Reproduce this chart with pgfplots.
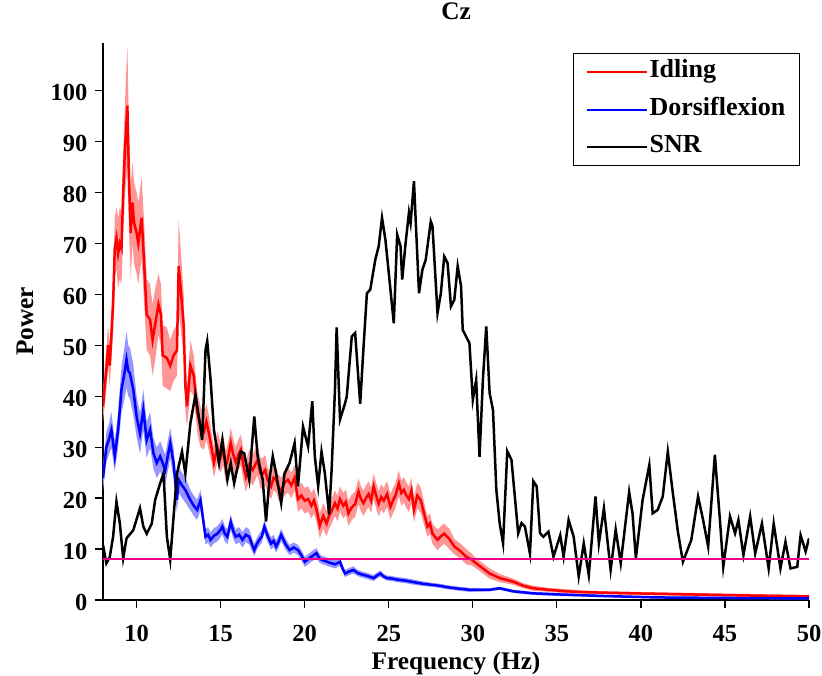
\documentclass[border=0pt]{standalone}
\usepackage{pgfplots}
\pgfplotsset{compat=1.18}
\usepackage{pgfplotstable}
\usepgfplotslibrary{fillbetween}
\usepackage{fontspec}
\setmainfont{Liberation Serif}
\newcommand{\bigbf}{\bfseries\fontsize{24.5}{29}\selectfont}
\newcommand{\labbf}{\bfseries\fontsize{25.3}{30}\selectfont}
\newcommand{\legbf}{\bfseries\fontsize{26}{31}\selectfont}
\definecolor{bandred}{RGB}{255,150,150}
\definecolor{bandblue}{RGB}{150,150,255}

\pgfplotstableread{
x y e
8.0 38 3
8.1 42 4
8.2 45 4
8.3 50 4
8.4 46 4
8.5 52 5
8.6 58 6
8.7 69 6
8.8 71 6
8.9 68 7
9.0 70 7
9.1 69 7
9.2 80 8
9.3 88 9
9.45 97 12
9.55 82 10
9.65 72 9
9.75 78 8
9.85 74 8
10.0 72 8
10.1 70 8
10.3 75 8
10.45 66 8
10.6 56 7
10.8 55 7
10.95 51 7
11.1 54 7
11.3 58 6
11.45 56 6
11.55 48 6
11.8 47.5 6
12.0 46 5
12.2 48 5
12.4 49 5
12.5 65.5 9
12.6 62 8
12.8 54 6
12.9 42 5
13.0 38 4
13.2 46 5
13.4 44 4
13.6 37 4
13.8 34 4
14.0 33 3.5
14.15 35 3.5
14.3 32.7 3.5
14.45 30 3
14.6 27 3
14.8 30 3
15.0 28 3
15.15 29.5 3
15.3 26.2 3
15.45 28 3
15.6 30.8 3
15.75 28.5 3
15.9 27 3
16.05 28.5 3
16.2 29.5 3
16.35 26.5 3
16.5 24.2 3
16.7 26.5 3
16.9 25.5 3
17.05 26.5 3
17.2 27.5 3
17.35 25 3
17.5 24.8 3
17.65 25.5 3
17.8 23.5 2.5
18.0 22.3 2.5
18.15 24 2.5
18.3 23.6 2.5
18.45 22 2.5
18.6 21.5 2.5
18.8 23 2.5
19.0 23.6 2.5
19.2 22.5 2.5
19.4 24 2.5
19.6 19.8 2.5
19.8 20.5 2.5
20.0 19.5 2.5
20.2 19.8 2.5
20.4 18.5 2.5
20.55 19.5 2.5
20.7 17.8 2.5
20.9 14.6 2.5
21.1 16.5 2.5
21.3 15 2.5
21.45 16.5 2.5
21.6 17.5 2.5
21.8 19 2.5
21.95 18 2.5
22.1 19.8 2.5
22.3 18.5 2.5
22.45 19.2 2.5
22.6 17 2.5
22.8 18.2 2.5
23.0 18.8 2.5
23.2 21.3 2.5
23.35 19.8 2.5
23.5 19 2.5
23.65 20 2.5
23.8 20.8 2.5
23.95 19.5 2.5
24.1 22.3 2.5
24.25 20.5 2.5
24.4 18.9 2.5
24.55 20.2 2.5
24.7 19.5 2.5
24.9 20.8 2.5
25.1 18.3 2.5
25.25 19.5 2.5
25.4 20.5 2.5
25.6 22.9 2.5
25.75 21 2.5
25.9 21.6 2.5
26.05 20.5 2.5
26.2 19.8 2.5
26.35 21.5 2.5
26.5 17.7 2.5
26.7 20.5 2.5
26.9 19.6 2.5
27.1 17 2.2
27.3 14.4 2
27.45 15 2
27.6 13 2
27.9 11.8 2
28.1 12.5 2
28.3 13 2
28.6 12 2
28.9 10.5 1.5
29.3 9.5 1.5
29.6 8.5 1.5
29.9 8 1.2
30.2 7.2 1
30.6 6.2 1
31.0 5.2 1
31.6 4.3 0.8
32.4 3.6 0.6
33.0 2.8 0.5
33.6 2.3 0.5
34.5 2.0 0.4
35.6 1.7 0.4
37.0 1.5 0.3
39.6 1.3 0.3
42.0 1.15 0.3
44.5 1.0 0.3
47.0 0.85 0.3
50.0 0.7 0.3
}\idling

\pgfplotstableread{
x y e
8.0 24 2.5
8.2 30 3
8.35 31.5 3
8.5 33.4 3.5
8.7 28.2 3
8.9 33.4 3.5
9.1 41.3 4.5
9.25 44 5
9.4 47.2 5.5
9.5 45 5
9.6 44.5 5
9.8 41.3 5
10.0 36 4
10.2 32.7 4
10.4 37.3 4
10.6 31.4 3.5
10.8 33.4 3.5
11.0 28.8 3
11.2 26.9 3
11.4 28.2 3
11.7 25.5 3
12.0 30.8 3
12.2 26.9 3
12.4 19.6 2.5
12.5 23.6 2.5
12.7 22.5 2.5
12.9 21.6 2.5
13.2 19.6 2
13.4 18.5 2
13.6 17.7 2
13.8 19.6 2
13.95 16 1.8
14.1 12.4 1.5
14.25 12.8 1.5
14.4 11.8 1.5
14.6 12.6 1.5
14.8 13 1.5
15.0 13.8 1.5
15.1 14.4 1.5
15.25 13 1.5
15.4 12.4 1.5
15.6 15.3 1.5
15.75 13.5 1.5
15.9 12.4 1.5
16.1 12.8 1.5
16.3 11.8 1.5
16.5 12.8 1.5
16.7 12.4 1.5
16.85 11 1.3
17.0 9.8 1.2
17.15 11 1.2
17.3 11.8 1.2
17.45 12.5 1.2
17.6 14.4 1.2
17.8 12.5 1.2
18.0 11.1 1.2
18.15 11.6 1.2
18.3 10.5 1.2
18.45 11.5 1.2
18.6 12.8 1.2
18.85 11 1.1
19.1 9.8 1
19.35 10.3 1
19.6 9.8 1
19.8 8.8 1
20.0 7.5 1
20.2 8 1
20.4 8.5 1
20.7 9.2 1
20.85 8.3 0.9
21.0 7.9 0.8
21.25 7.6 0.8
21.5 7.3 0.8
21.8 7 0.8
22.1 7.5 0.8
22.25 6.2 0.7
22.4 5.2 0.7
22.65 5.6 0.7
22.9 5.9 0.7
23.15 5.3 0.6
23.4 5.0 0.6
23.75 4.7 0.6
24.1 4.3 0.6
24.3 4.8 0.6
24.5 5.2 0.6
24.7 4.6 0.5
24.9 4.3 0.5
25.2 4.2 0.5
25.5 4.0 0.5
26.0 3.8 0.5
26.5 3.5 0.5
27.0 3.2 0.45
27.5 3.0 0.4
28.0 2.8 0.4
28.5 2.5 0.4
29.2 2.2 0.4
29.8 2.0 0.4
30.4 2.0 0.35
31.0 2.0 0.3
31.6 2.3 0.3
32.4 1.7 0.3
33.6 1.3 0.3
35.0 1.1 0.3
37.6 0.8 0.2
41.0 0.5 0.2
45.0 0.4 0.2
50.0 0.3 0.2
}\dorsi

\pgfplotstableread{
x y
8.0 10.8
8.2 7.2
8.4 8.4
8.6 12.4
8.8 19.3
9.0 15.1
9.2 8.2
9.4 12.1
9.8 13.7
10.2 18.0
10.4 14.4
10.6 13.0
10.9 15.0
11.1 19.6
11.4 22.9
11.6 24.8
11.8 12.4
12.0 7.9
12.2 16.4
12.4 24.8
12.7 29.1
12.9 24.8
13.2 34.7
13.5 40.3
13.7 36
13.9 31.4
14.1 49.1
14.2 50.8
14.4 43.2
14.6 33.4
14.9 26.9
15.1 31.4
15.4 23.6
15.6 26.9
15.8 22.9
16.2 29.1
16.4 28.8
16.7 23.6
17.0 36
17.2 28.2
17.5 23.6
17.7 15.4
17.9 23.6
18.1 28.2
18.3 24.8
18.6 19.0
18.8 24.8
19.1 26.9
19.4 30.8
19.6 22.3
19.9 34.0
20.2 30.1
20.45 39.0
20.6 28.2
20.8 22.3
21.0 29.1
21.2 24.8
21.45 16.8
21.6 25.5
21.8 41.3
21.9 53.5
22.1 35.4
22.4 38.6
22.5 39.9
22.8 51.7
23.0 52.4
23.3 38.5
23.5 49.7
23.7 60.2
23.9 60.9
24.2 66.8
24.4 69.4
24.6 75
24.8 70.7
25.0 64.2
25.3 54.3
25.5 71.7
25.7 69.4
25.8 62.9
26.0 70.0
26.2 76
26.3 74
26.5 82.2
26.6 74.7
26.8 60.2
27.0 64.8
27.2 66.8
27.5 74.3
27.6 73.4
27.9 56.3
28.1 60.2
28.3 67.4
28.5 66.1
28.7 57.6
28.9 58.9
29.1 65.5
29.3 61.6
29.4 53
29.8 50.4
30.0 39.3
30.2 43.2
30.4 28.1
30.6 43.2
30.8 53.7
31.0 40.6
31.2 37.3
31.4 21.6
31.6 15
31.8 11.1
32.05 29.2
32.3 27.5
32.5 20.3
32.7 13.1
32.9 15.1
33.1 14.4
33.4 9.1
33.6 23.3
33.8 22.3
34.0 13.1
34.2 12.4
34.5 13.4
34.8 8.5
35.2 12.7
35.4 8.5
35.7 15.7
36.0 12.4
36.3 4.6
36.6 11.1
36.9 4.9
37.3 20.3
37.5 11.1
37.8 18.0
38.2 5.9
38.5 13.8
38.8 7.2
39.3 21.2
39.5 17.0
39.7 8.2
40.1 19.6
40.5 26.5
40.7 17.0
41.0 17.7
41.3 20.3
41.6 29.1
41.9 21.0
42.2 13.4
42.5 7.5
43.0 11.8
43.4 20.3
43.7 15.7
44.0 10.5
44.4 28.5
44.7 15.7
44.9 6.5
45.3 16.4
45.6 13.1
45.8 15.7
46.1 8.8
46.5 16.4
46.8 9.1
47.2 15.0
47.6 6.2
47.9 15.0
48.3 6.2
48.6 11.4
48.9 6.2
49.3 6.5
49.5 12.7
49.8 9.5
50.0 12.1
}\snr

\begin{document}
\begin{tikzpicture}
\begin{axis}[
  at={(0pt,0pt)}, anchor=south west,
  scale only axis,
  width=706pt, height=557pt,
  xmin=8, xmax=50, ymin=0, ymax=109.3,
  axis x line*=bottom, axis y line*=left,
  axis line style={-, line width=1.2pt},
  tick style={line width=1.2pt, black},
  tick align=outside,
  major tick length=8pt,
  xtick={10,15,...,50},
  ytick={0,10,...,100},
  minor tick num=0,
  font=\bigbf,
  ticklabel style={font=\bigbf},
  /pgf/number format/assume math mode=true,
  xticklabel style={anchor=base, yshift=-34pt},
  yticklabel style={anchor=east, xshift=-4pt, yshift=-2pt},
  title={Cz},
  title style={at={(axis description cs:0.5,1)}, anchor=base, yshift=17pt, font=\labbf},
  xlabel={Frequency (Hz)},
  xlabel style={at={(axis description cs:0.5,0)}, anchor=center, yshift=-63pt, font=\labbf},
  ylabel={Power},
  ylabel style={at={(axis description cs:-0.1105,0.5)}, anchor=center, font=\labbf},
  legend style={at={(axis description cs:0.987,0.982)}, anchor=north east,
    draw=black, line width=1pt, fill=white, font=\legbf,
    inner xsep=12pt, inner ysep=5pt, row sep=10.5pt,
    nodes={text height=17pt, text depth=6pt}},
  legend cell align=left,
  legend image code/.code={\draw[#1, line width=2pt] (0pt,0pt) -- (60pt,0pt);},
]
\addplot[draw=none, name path=ru, forget plot] table[x=x, y expr=\thisrow{y}+\thisrow{e}] {\idling};
\addplot[draw=none, name path=rl, forget plot] table[x=x, y expr=\thisrow{y}-\thisrow{e}] {\idling};
\addplot[fill=bandred, draw=none, forget plot] fill between[of=ru and rl];
\addplot[draw=none, name path=bu, forget plot] table[x=x, y expr=\thisrow{y}+\thisrow{e}] {\dorsi};
\addplot[draw=none, name path=bl, forget plot] table[x=x, y expr=\thisrow{y}-\thisrow{e}] {\dorsi};
\addplot[fill=bandblue, draw=none, forget plot] fill between[of=bu and bl];
\addplot[draw=red, line width=2.5pt] table[x=x, y=y] {\idling};
\addlegendentry{Idling}
\addplot[draw=blue, line width=2.5pt] table[x=x, y=y] {\dorsi};
\addlegendentry{Dorsiflexion}
\addplot[draw=black, line width=2.5pt] table[x=x, y=y] {\snr};
\addlegendentry{SNR}
\addplot[magenta, line width=2pt, forget plot] coordinates {(8,8) (50,8)};
\end{axis}
\pgfresetboundingbox
\useasboundingbox (-103pt,-76pt) rectangle (719pt,600pt);
\end{tikzpicture}
\end{document}
